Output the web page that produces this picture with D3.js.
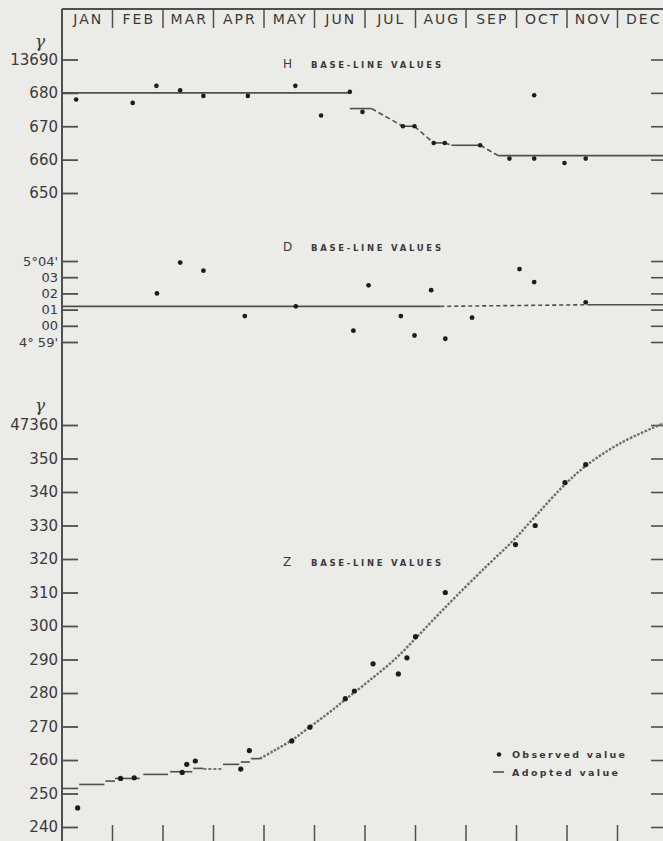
<!DOCTYPE html>
<html><head><meta charset="utf-8">
<script src="https://cdn.jsdelivr.net/npm/d3@7/dist/d3.min.js"></script>
<style>
html,body{margin:0;padding:0;background:#ebebe7;}
svg{display:block;}
</style></head>
<body>
<script>
// ---------- DATA ----------
const months = ["JAN","FEB","MAR","APR","MAY","JUN","JUL","AUG","SEP","OCT","NOV","DEC"];

// H panel (gammas, 13600 + ...); x in months from 1 Jan
const hTicks = [650, 660, 670, 680, 690];
const hTickLabels = ["650", "660", "670", "680", "13690"];
const hObserved = [[0.28,678.0],[1.40,677.0],[1.87,682.1],[2.34,680.8],[2.80,679.1],[3.68,679.1],[4.62,682.1],[5.13,673.2],[5.70,680.3],[5.95,674.3],[6.75,670.0],[6.98,670.0],[7.36,665.0],[7.58,665.0],[8.28,664.3],[8.86,660.3],[9.35,679.3],[9.35,660.3],[9.95,659.0],[10.37,660.3]];
const hAdoptedSteps = [[0,5.70,680],[5.70,6.13,675.3],[6.75,6.98,670],[7.36,7.58,665],[7.71,8.28,664.3],[8.64,12,661.2]];
const hAdoptedLinks = [[[6.13,675.3],[6.75,670]],[[6.98,670],[7.36,665]],[[7.58,665],[7.71,664.3]],[[8.28,664.3],[8.64,661.2]]];

// D panel (arc minutes: 300 = 5°00')
const dTicks = [299, 300, 301, 302, 303, 304];
const dTickLabels = ["4° 59'", "00", "01", "02", "03", "5°04'"];
const dObserved = [[1.88,302.0],[2.34,303.9],[2.80,303.4],[3.62,300.6],[4.63,301.2],[5.77,299.7],[6.07,302.5],[6.71,300.6],[6.98,299.4],[7.31,302.2],[7.59,299.2],[8.12,300.5],[9.06,303.5],[9.35,302.7],[10.37,301.45]];
const dAdoptedSteps = [[0,7.49,301.2],[10.40,12,301.3]];
const dAdoptedLinks = [[[7.49,301.2],[10.40,301.3]]];

// Z panel (gammas, 47000 + ...)
const zTicks = [240,250,260,270,280,290,300,310,320,330,340,350,360];
const zTickLabels = ["240","250","260","270","280","290","300","310","320","330","340","350","47360"];
const zObserved = [[0.31,245.7],[1.16,254.5],[1.43,254.7],[2.38,256.3],[2.47,258.7],[2.64,259.7],[3.54,257.3],[3.71,262.8],[4.55,265.7],[4.91,269.8],[5.61,278.3],[5.79,280.6],[6.16,288.7],[6.66,285.7],[6.83,290.5],[7.00,296.8],[7.59,310.0],[8.98,324.3],[9.37,330.0],[9.96,342.8],[10.37,348.2]];
const zAdoptedSteps = [[0,0.32,251.5],[0.34,0.84,252.7],[0.86,1.05,253.7],[1.05,1.54,254.5],[1.61,2.10,255.7],[2.14,2.58,256.5],[2.60,2.80,257.5],[3.19,3.51,258.7],[3.54,3.72,259.4],[3.74,3.92,260.4]];
const zAdoptedLinks = [[[2.80,257.3],[3.19,257.3]]];
const zAdoptedCurve = [[3.92,260.4],[4.20,262.8],[4.55,265.9],[4.91,269.9],[5.31,274.4],[5.64,278.4],[6.16,284.6],[6.63,290.6],[7.02,296.6],[7.40,302.6],[7.80,308.8],[8.41,317.9],[8.94,325.6],[9.40,333.2],[9.93,341.8],[10.39,348.0],[11.05,354.5],[11.90,360.4],[12.0,360.9]];

const legendItems = ["Observed value", "Adopted value"];

// ---------- DRAW ----------
const W = 663, H = 841;
const ink = "#4f4f4f", dot = "#1c1c1c", txt = "#3a3a3a";
const svg = d3.select("body").append("svg").attr("width", W).attr("height", H);
svg.append("rect").attr("width", W).attr("height", H).attr("fill", "#ebebe7");

const x = d3.scaleLinear().domain([0, 12]).range([62, 668]);
const yH = d3.scaleLinear().domain([650, 690]).range([193, 59.5]);
const yD = d3.scaleLinear().domain([299, 304]).range([342, 261]);
const yZ = d3.scaleLinear().domain([240, 360]).range([827, 425]);

// header
svg.append("line").attr("x1", 62).attr("x2", W).attr("y1", 9).attr("y2", 9)
  .attr("stroke", ink).attr("stroke-width", 1.8);
svg.selectAll(".msep").data(d3.range(1, 12)).join("line")
  .attr("x1", d => x(d)).attr("x2", d => x(d)).attr("y1", 9).attr("y2", 28)
  .attr("stroke", ink).attr("stroke-width", 1.5);
svg.selectAll(".mlab").data(months).join("text")
  .attr("x", (d, i) => x(i + 0.5) + 1).attr("y", 24)
  .attr("text-anchor", "middle").attr("font-family", "DejaVu Sans")
  .attr("font-size", 14).attr("letter-spacing", 2).attr("fill", txt).text(d => d);

// left axis line & bottom ticks
svg.append("line").attr("x1", 62).attr("x2", 62).attr("y1", 9).attr("y2", H)
  .attr("stroke", ink).attr("stroke-width", 2);
svg.selectAll(".btick").data(d3.range(1, 12)).join("line")
  .attr("x1", d => x(d)).attr("x2", d => x(d)).attr("y1", 825).attr("y2", H)
  .attr("stroke", ink).attr("stroke-width", 1.5);

function panelAxes(y, ticks, labels, fs) {
  const gl = svg.append("g").attr("transform", "translate(62,0)")
    .call(d3.axisLeft(y).tickValues(ticks).tickSize(-16).tickPadding(4)
      .tickFormat((d, i) => labels[i]));
  gl.select(".domain").remove();
  gl.selectAll(".tick line").attr("stroke", ink).attr("stroke-width", 1.8);
  gl.selectAll(".tick text").attr("font-family", "DejaVu Sans").attr("font-size", fs)
    .attr("fill", txt);
  const gr = svg.append("g").attr("transform", "translate(663,0)")
    .call(d3.axisRight(y).tickValues(ticks).tickSize(-12).tickFormat(""));
  gr.select(".domain").remove();
  gr.selectAll(".tick line").attr("stroke", ink).attr("stroke-width", 1.6);
}
panelAxes(yH, hTicks, hTickLabels, 15);
panelAxes(yD, dTicks, dTickLabels, 13);
panelAxes(yZ, zTicks, zTickLabels, 15);

// gamma units
[[40, 47], [40, 411]].forEach(p => svg.append("text").attr("x", p[0]).attr("y", p[1])
  .attr("text-anchor", "middle").attr("font-family", "DejaVu Serif").attr("font-style", "italic")
  .attr("font-size", 17).attr("fill", txt).text("γ"));

// panel titles
function title(letter, yb) {
  svg.append("text").attr("x", 283).attr("y", yb).attr("font-family", "DejaVu Sans")
    .attr("font-size", 12).attr("fill", txt).text(letter);
  svg.append("text").attr("x", 311).attr("y", yb).attr("font-family", "DejaVu Sans")
    .attr("font-weight", "bold").attr("font-size", 8.5).attr("fill", txt)
    .attr("textLength", 130).attr("lengthAdjust", "spacing").text("BASE-LINE VALUES");
}
title("H", 68);
title("D", 251);
title("Z", 566);

// adopted lines
function adopted(y, steps, links, dash, sw) {
  svg.append("g").selectAll("line").data(steps).join("line")
    .attr("x1", d => x(d[0])).attr("x2", d => x(d[1]))
    .attr("y1", d => y(d[2])).attr("y2", d => y(d[2]))
    .attr("stroke", ink).attr("stroke-width", sw);
  const ln = d3.line().x(d => x(d[0])).y(d => y(d[1]));
  svg.append("g").selectAll("path").data(links).join("path")
    .attr("d", ln).attr("fill", "none").attr("stroke", ink)
    .attr("stroke-width", sw).attr("stroke-dasharray", dash);
}
adopted(yH, hAdoptedSteps, hAdoptedLinks, "5,3", 1.6);
adopted(yD, dAdoptedSteps, dAdoptedLinks, "4,3", 1.6);
adopted(yZ, zAdoptedSteps, zAdoptedLinks, "3,2", 1.6);

svg.append("path").datum(zAdoptedCurve)
  .attr("d", d3.line().x(d => x(d[0])).y(d => yZ(d[1])).curve(d3.curveCatmullRom.alpha(0.5)))
  .attr("fill", "none").attr("stroke", "#6e6e6e").attr("stroke-width", 2.4)
  .attr("stroke-dasharray", "2.5,1.5");

// observed points
function observed(y, pts, r) {
  svg.append("g").selectAll("circle").data(pts).join("circle")
    .attr("cx", d => x(d[0])).attr("cy", d => y(d[1])).attr("r", r).attr("fill", dot);
}
observed(yH, hObserved, 2.3);
observed(yD, dObserved, 2.4);
observed(yZ, zObserved, 2.6);

// legend
const lg = svg.append("g");
lg.append("circle").attr("cx", 499).attr("cy", 754.5).attr("r", 2.2).attr("fill", dot);
lg.append("line").attr("x1", 493).attr("x2", 504).attr("y1", 772).attr("y2", 772)
  .attr("stroke", ink).attr("stroke-width", 1.6);
lg.selectAll("text").data(legendItems).join("text")
  .attr("x", 512).attr("y", (d, i) => 758 + i * 18)
  .attr("font-family", "DejaVu Sans").attr("font-weight", "bold").attr("font-size", 9.5)
  .attr("fill", txt).attr("textLength", (d, i) => i === 0 ? 113 : 106)
  .attr("lengthAdjust", "spacing").text(d => d);
</script>
</body></html>
